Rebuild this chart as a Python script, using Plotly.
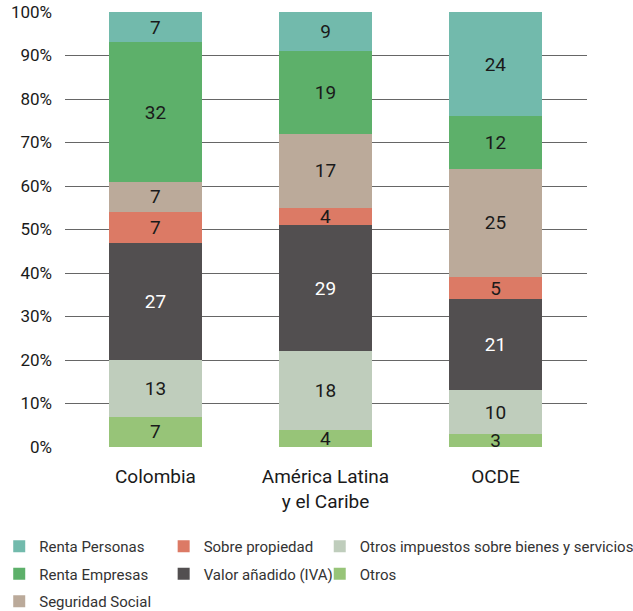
import plotly.graph_objects as go

categories = ["Colombia", "América Latina<br>y el Caribe", "OCDE"]

# Series in stacking order, bottom to top
otros = [7, 4, 3]
otros_bienes = [13, 18, 10]
iva = [27, 29, 21]
propiedad = [7, 4, 5]
seguridad = [7, 17, 25]
renta_empresas = [32, 19, 12]
renta_personas = [7, 9, 24]

# name, values, fill, label colour, legend column, position within column
series = [
    ("Otros", otros, "#97C478", "#1a1a1a", "legend3", 2),
    ("Otros impuestos sobre bienes y servicios", otros_bienes, "#BFCDBC", "#1a1a1a", "legend3", 1),
    ("Valor añadido (IVA)", iva, "#524F50", "#ffffff", "legend2", 2),
    ("Sobre propiedad", propiedad, "#DC7A65", "#1a1a1a", "legend2", 1),
    ("Seguridad Social", seguridad, "#BBAA9A", "#1a1a1a", "legend", 3),
    ("Renta Empresas", renta_empresas, "#5DB06A", "#1a1a1a", "legend", 2),
    ("Renta Personas", renta_personas, "#72BAAC", "#1a1a1a", "legend", 1),
]

FONT = "Roboto, Liberation Sans, sans-serif"

fig = go.Figure()
for name, vals, color, tcolor, lg, rank in series:
    fig.add_trace(go.Bar(
        x=list(range(len(categories))),
        y=vals,
        name=name,
        legendgroup=name,
        legendrank=rank,
        marker=dict(color=color, line=dict(width=0)),
        text=[str(v) for v in vals],
        textposition="inside",
        insidetextanchor="middle",
        constraintext="none",
        textangle=0,
        textfont=dict(color=tcolor, size=19, family=FONT),
        width=0.547,
        legend=lg,
        hoverinfo="skip",
    ))

legend_common = dict(
    orientation="v",
    traceorder="grouped",
    tracegroupgap=5,
    yanchor="top",
    xanchor="left",
    font=dict(size=15, family=FONT, color="#333333"),
    bgcolor="rgba(0,0,0,0)",
    itemwidth=30,
)

fig.update_layout(
    barmode="stack",
    width=633,
    height=611,
    margin=dict(l=65, r=46, t=12, b=164, autoexpand=False),
    plot_bgcolor="white",
    paper_bgcolor="white",
    xaxis=dict(
        range=[-0.532, 2.538],
        tickvals=list(range(len(categories))),
        ticktext=categories,
        tickangle=0,
        showgrid=False,
        zeroline=False,
        showline=False,
        ticks="",
        tickfont=dict(size=19, family=FONT, color="#1a1a1a"),
        ticklabelstandoff=16,
    ),
    yaxis=dict(
        range=[0, 100],
        tickvals=list(range(0, 101, 10)),
        ticktext=[f"{v}%" for v in range(0, 101, 10)],
        showgrid=True,
        gridcolor="#666666",
        gridwidth=1.2,
        zeroline=False,
        showline=False,
        ticks="",
        ticklabelstandoff=12,
        tickfont=dict(size=17, family=FONT, color="#1a1a1a"),
    ),
    showlegend=True,
    legend=dict(legend_common, x=-0.126, y=-0.191),
    legend2=dict(legend_common, x=0.189, y=-0.191),
    legend3=dict(legend_common, x=0.488, y=-0.191),
)

fig.write_html("out.html")
